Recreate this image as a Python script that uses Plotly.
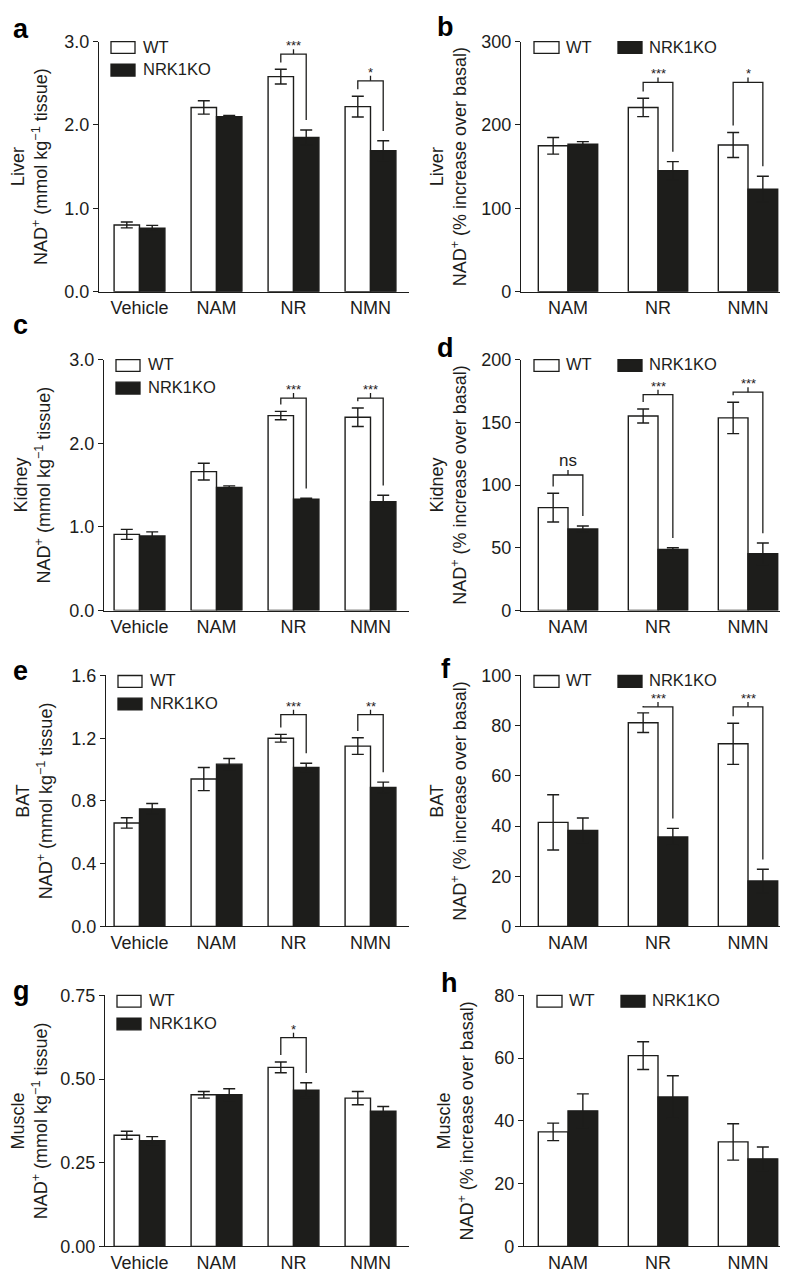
import plotly.graph_objects as go

W, H = 788, 1272
FONT = "Liberation Sans, Arial, Helvetica, sans-serif"
INK = "#1d1d1b"

# ---------------- data ----------------
cats_abs = ["Vehicle", "NAM", "NR", "NMN"]
cats_pct = ["NAM", "NR", "NMN"]
series_names = ["WT", "NRK1KO"]
organs = ["Liver", "Kidney", "BAT", "Muscle"]

liver_abs_wt = [0.80, 2.21, 2.58, 2.22]
liver_abs_wt_err = [0.035, 0.08, 0.088, 0.125]
liver_abs_ko = [0.76, 2.10, 1.85, 1.69]
liver_abs_ko_err = [0.035, 0.015, 0.09, 0.12]

liver_pct_wt = [175, 221, 176]
liver_pct_wt_err = [10, 11, 15]
liver_pct_ko = [177, 145, 123]
liver_pct_ko_err = [3, 11, 15.5]

kidney_abs_wt = [0.91, 1.66, 2.33, 2.31]
kidney_abs_wt_err = [0.06, 0.10, 0.05, 0.11]
kidney_abs_ko = [0.89, 1.47, 1.33, 1.30]
kidney_abs_ko_err = [0.05, 0.02, 0.012, 0.078]

kidney_pct_wt = [82, 155, 153.5]
kidney_pct_wt_err = [11.4, 5.6, 12.5]
kidney_pct_ko = [65, 48.6, 45.2]
kidney_pct_ko_err = [2.4, 1.4, 8.6]

bat_abs_wt = [0.66, 0.94, 1.20, 1.15]
bat_abs_wt_err = [0.033, 0.074, 0.025, 0.053]
bat_abs_ko = [0.75, 1.035, 1.014, 0.886]
bat_abs_ko_err = [0.034, 0.036, 0.027, 0.034]

bat_pct_wt = [41.5, 81.2, 72.8]
bat_pct_wt_err = [11, 3.9, 8.2]
bat_pct_ko = [38.3, 35.7, 18.1]
bat_pct_ko_err = [4.9, 3.4, 4.7]

muscle_abs_wt = [0.332, 0.453, 0.535, 0.443]
muscle_abs_wt_err = [0.012, 0.01, 0.016, 0.02]
muscle_abs_ko = [0.316, 0.453, 0.467, 0.404]
muscle_abs_ko_err = [0.012, 0.018, 0.022, 0.014]

muscle_pct_wt = [36.5, 60.8, 33.3]
muscle_pct_wt_err = [2.8, 4.4, 5.8]
muscle_pct_ko = [43.2, 47.6, 27.9]
muscle_pct_ko_err = [5.4, 6.8, 3.8]

# significance brackets: (category, label, bracket level in data units)
sig_a = [("NR", "***", 2.85), ("NMN", "*", 2.53)]
sig_b = [("NR", "***", 251), ("NMN", "*", 251)]
sig_c = [("NR", "***", 2.54), ("NMN", "***", 2.54)]
sig_d = [("NAM", "ns", 108), ("NR", "***", 172), ("NMN", "***", 174)]
sig_e = [("NR", "***", 1.35), ("NMN", "**", 1.35)]
sig_f = [("NR", "***", 87.5), ("NMN", "***", 87.5)]
sig_g = [("NR", "*", 0.624)]
sig_h = []

ytitle_abs = "NAD<sup>+</sup> (mmol kg<sup>−1</sup> tissue)"
ytitle_pct = "NAD<sup>+</sup> (% increase over basal)"

ymax_abs = [3.0, 3.0, 1.6, 0.75]
ydtick_abs = [1.0, 1.0, 0.4, 0.25]
yfmt_abs = [".1f", ".1f", ".1f", ".2f"]
ymax_pct = [300, 200, 100, 80]
ydtick_pct = [100, 50, 20, 20]

# ---------------- layout geometry (pixels) ----------------
row_top = [24, 347, 668, 993]
row_bot = [278, 602, 923, 1248]
left_L = [91, 96, 98, 97]
right_L = [513, 513, 513, 516]
LEFT_R, RIGHT_R = 401, 785
letters_left = ["a", "c", "e", "g"]
letters_right = ["b", "d", "f", "h"]
letter_left_pos = [(3, 22), (3, 323), (3, 675), (3, 1000)]
letter_right_pos = [(427, 20), (427, 347), (431, 673), (431, 992)]
standoff_left = [12, 13, 13, 11]
standoff_right = [9, 9, 9, 15]

abs_data = [
    (liver_abs_wt, liver_abs_wt_err, liver_abs_ko, liver_abs_ko_err, sig_a),
    (kidney_abs_wt, kidney_abs_wt_err, kidney_abs_ko, kidney_abs_ko_err, sig_c),
    (bat_abs_wt, bat_abs_wt_err, bat_abs_ko, bat_abs_ko_err, sig_e),
    (muscle_abs_wt, muscle_abs_wt_err, muscle_abs_ko, muscle_abs_ko_err, sig_g),
]
pct_data = [
    (liver_pct_wt, liver_pct_wt_err, liver_pct_ko, liver_pct_ko_err, sig_b),
    (kidney_pct_wt, kidney_pct_wt_err, kidney_pct_ko, kidney_pct_ko_err, sig_d),
    (bat_pct_wt, bat_pct_wt_err, bat_pct_ko, bat_pct_ko_err, sig_f),
    (muscle_pct_wt, muscle_pct_wt_err, muscle_pct_ko, muscle_pct_ko_err, sig_h),
]


def fx(p):
    return p / W


def fy(p):
    return 1 - p / H


fig = go.Figure()
layout = {}
shapes = []
annotations = []
BAR_HALF = 0.165

panel_specs = []
for r in range(4):
    panel_specs.append(dict(cats=cats_abs, data=abs_data[r], ymax=ymax_abs[r], dtick=ydtick_abs[r],
                            fmt=yfmt_abs[r], L=left_L[r], R=LEFT_R, rR=3.5, step=77,
                            top=row_top[r], bot=row_bot[r], letter=letters_left[r],
                            letter_pos=letter_left_pos[r], standoff=standoff_left[r],
                            organ=organs[r], ytitle=ytitle_abs, legend="vertical"))
    panel_specs.append(dict(cats=cats_pct, data=pct_data[r], ymax=ymax_pct[r], dtick=ydtick_pct[r],
                            fmt="", L=right_L[r], R=RIGHT_R, rR=2.5, step=90,
                            top=row_top[r], bot=row_bot[r], letter=letters_right[r],
                            letter_pos=letter_right_pos[r], standoff=standoff_right[r],
                            organ=organs[r], ytitle=ytitle_pct, legend="horizontal"))

for k, P in enumerate(panel_specs):
    n = k + 1
    xa = "x" if n == 1 else f"x{n}"
    ya = "y" if n == 1 else f"y{n}"
    wt, wt_err, ko, ko_err, sig = P["data"]
    cats = P["cats"]

    fig.add_trace(go.Bar(
        x=cats, y=wt, name=series_names[0], xaxis=xa, yaxis=ya, showlegend=False,
        marker=dict(color="white", line=dict(color=INK, width=1.4)),
        error_y=dict(type="data", array=wt_err, visible=True, color=INK, thickness=1.4, width=6),
    ))
    fig.add_trace(go.Bar(
        x=cats, y=ko, name=series_names[1], xaxis=xa, yaxis=ya, showlegend=False,
        marker=dict(color=INK, line=dict(color=INK, width=1.4)),
        error_y=dict(type="data", array=ko_err, visible=True, color=INK, thickness=1.4, width=6),
    ))

    L, R = P["L"], P["R"]
    rL = P["rR"] - (R - L) / P["step"]
    axis_font = dict(family=FONT, size=18, color=INK)
    layout["xaxis" if n == 1 else f"xaxis{n}"] = dict(
        domain=[fx(L), fx(R)], range=[rL, P["rR"]], anchor=ya, type="category",
        categoryorder="array", categoryarray=cats,
        showline=True, linecolor=INK, linewidth=1.4, ticks="", showgrid=False,
        zeroline=False, tickfont=axis_font, fixedrange=True,
    )
    ydict = dict(
        domain=[fy(P["bot"]), fy(P["top"])], range=[0, P["ymax"]], anchor=xa,
        showline=True, linecolor=INK, linewidth=1.4, ticks="outside", ticklen=5,
        tickwidth=1.4, tickcolor=INK, dtick=P["dtick"], tick0=0, showgrid=False,
        zeroline=False, tickfont=axis_font, fixedrange=True,
        title=dict(text=P["organ"] + "<br>" + P["ytitle"], standoff=P["standoff"],
                   font=dict(family=FONT, size=18, color=INK)),
    )
    if P["fmt"]:
        ydict["tickformat"] = P["fmt"]
    layout["yaxis" if n == 1 else f"yaxis{n}"] = ydict

    # significance brackets
    upp = P["ymax"] / (P["bot"] - P["top"])  # data units per pixel
    for cat, label, level in sig:
        i = cats.index(cat)
        x0, x1 = i - BAR_HALF, i + BAR_HALF
        lb = wt[i] + wt_err[i] + 7 * upp
        rb = ko[i] + ko_err[i] + 10 * upp
        line = dict(color=INK, width=1.3)
        shapes.append(dict(type="path", xref=xa, yref=ya,
                           path=f"M {x0} {lb} L {x0} {level} L {x1} {level} L {x1} {rb}",
                           line=line))
        shapes.append(dict(type="line", xref=xa, yref=ya, x0=i, x1=i, y0=level,
                           y1=level + 5 * upp, line=line))
        is_ns = label == "ns"
        annotations.append(dict(xref=xa, yref=ya, x=i, y=level + (3 if is_ns else 0) * upp,
                                text=label, showarrow=False, xanchor="center", yanchor="bottom",
                                yshift=0 if is_ns else -1,
                                font=dict(family=FONT, size=17 if is_ns else 13, color=INK)))

    # legend drawn as boxes + text
    top = P["top"]
    lfont = dict(family=FONT, size=16.5, color=INK)
    if P["legend"] == "vertical":
        items = [(L + 12, L + 36, top + 0, top + 12, "white", L + 42),
                 (L + 12, L + 36, top + 23, top + 35, INK, L + 42)]
    else:
        items = [(L + 13, L + 38, top + 0, top + 12, "white", L + 43),
                 (L + 97, L + 121, top + 0, top + 12, INK, L + 126)]
    for (bx0, bx1, by0, by1, fill, tx), name in zip(items, series_names):
        shapes.append(dict(type="rect", xref="paper", yref="paper",
                           x0=fx(bx0), x1=fx(bx1), y0=fy(by1), y1=fy(by0),
                           fillcolor=fill, line=dict(color=INK, width=1.3)))
        annotations.append(dict(xref="paper", yref="paper", x=fx(tx), y=fy((by0 + by1) / 2 - 1),
                                text=name, showarrow=False, xanchor="left", yanchor="middle",
                                font=lfont))

    # panel letter
    lx, lbase = P["letter_pos"]
    annotations.append(dict(xref="paper", yref="paper", x=fx(lx), y=fy(lbase + 6),
                            text=P["letter"], showarrow=False, xanchor="left",
                            yanchor="bottom",
                            font=dict(family=FONT, size=27, color="#000", weight="bold")))

fig.update_layout(
    width=W, height=H, margin=dict(l=0, r=0, t=0, b=0),
    paper_bgcolor="white", plot_bgcolor="white",
    barmode="group", bargap=0.34, bargroupgap=0,
    showlegend=False, shapes=shapes, annotations=annotations,
    font=dict(family=FONT, color=INK),
    **layout,
)

fig.write_html("out.html")
